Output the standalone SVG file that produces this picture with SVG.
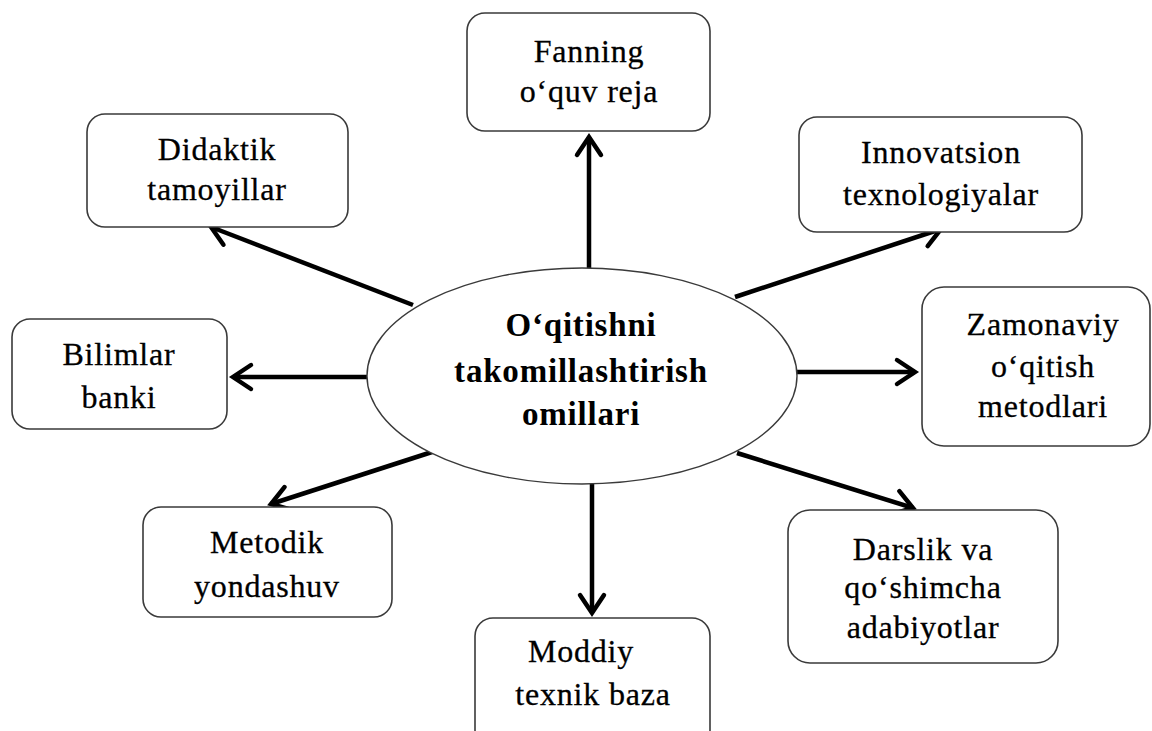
<svg xmlns="http://www.w3.org/2000/svg" width="1152" height="731" viewBox="0 0 1152 731">
  <style>
    .box { fill: #ffffff; stroke: #3a3a3a; stroke-width: 1.6; }
    .ell { fill: #ffffff; stroke: #3a3a3a; stroke-width: 1.4; }
    .lbl { font-family: "Liberation Serif", "Times New Roman", serif; font-size: 32px; fill: #000; stroke: #000; stroke-width: 0.3; text-anchor: middle; letter-spacing: 0.8px; }
    .main { font-family: "Liberation Serif", "Times New Roman", serif; font-size: 33px; font-weight: bold; fill: #000; text-anchor: middle; letter-spacing: 0.8px; }
    .arr { stroke: #000; stroke-width: 4.5; fill: none; marker-end: url(#head); }
  </style>
  <defs>
    <marker id="head" markerUnits="userSpaceOnUse" markerWidth="34" markerHeight="34" viewBox="-24 -17 28 34" refX="0" refY="0" orient="auto">
      <path d="M -18 -12 L 0 0 L -18 12" fill="none" stroke="#000" stroke-width="4.5" stroke-linecap="round" stroke-linejoin="miter"/>
    </marker>
  </defs>
  <rect width="1152" height="731" fill="#ffffff"/>

  <g id="connectors">
    <line class="arr" x1="589" y1="268" x2="589" y2="137"/>
    <line class="arr" x1="413" y1="305" x2="211" y2="227"/>
    <line class="arr" x1="735" y1="297" x2="941" y2="229"/>
    <line class="arr" x1="367" y1="377" x2="233" y2="377"/>
    <line class="arr" x1="797" y1="372" x2="915" y2="372"/>
    <line class="arr" x1="432" y1="452" x2="271" y2="504"/>
    <line class="arr" x1="592" y1="483" x2="592" y2="613"/>
    <line class="arr" x1="737" y1="453" x2="913" y2="508"/>
  </g>

  <g id="center">
    <ellipse class="ell" cx="582" cy="376" rx="215" ry="108"/>
    <text class="main" x="581" y="336">O‘qitishni</text>
    <text class="main" x="581" y="382">takomillashtirish</text>
    <text class="main" x="581" y="425">omillari</text>
  </g>

  <g id="fanning">
    <rect class="box" x="467" y="13" width="243" height="118" rx="18"/>
    <text class="lbl" x="589" y="62">Fanning</text>
    <text class="lbl" x="589" y="102">o‘quv reja</text>
  </g>

  <g id="didaktik">
    <rect class="box" x="87" y="114" width="261" height="113" rx="18"/>
    <text class="lbl" x="217" y="160">Didaktik</text>
    <text class="lbl" x="217" y="200">tamoyillar</text>
  </g>

  <g id="innovatsion">
    <rect class="box" x="799" y="117" width="283" height="115" rx="18"/>
    <text class="lbl" x="941" y="163">Innovatsion</text>
    <text class="lbl" x="941" y="205">texnologiyalar</text>
  </g>

  <g id="bilimlar">
    <rect class="box" x="12" y="319" width="215" height="110" rx="18"/>
    <text class="lbl" x="119" y="365">Bilimlar</text>
    <text class="lbl" x="119" y="408">banki</text>
  </g>

  <g id="zamonaviy">
    <rect class="box" x="922" y="287" width="228" height="159" rx="22"/>
    <text class="lbl" x="1043" y="335">Zamonaviy</text>
    <text class="lbl" x="1043" y="377">o‘qitish</text>
    <text class="lbl" x="1043" y="417">metodlari</text>
  </g>

  <g id="metodik">
    <rect class="box" x="143" y="507" width="249" height="110" rx="18"/>
    <text class="lbl" x="267" y="553">Metodik</text>
    <text class="lbl" x="267" y="597">yondashuv</text>
  </g>

  <g id="moddiy">
    <rect class="box" x="475" y="618" width="235" height="130" rx="18"/>
    <text class="lbl" x="581" y="662">Moddiy</text>
    <text class="lbl" x="593" y="705">texnik baza</text>
  </g>

  <g id="darslik">
    <rect class="box" x="788" y="510" width="270" height="153" rx="22"/>
    <text class="lbl" x="923" y="560">Darslik va</text>
    <text class="lbl" x="923" y="598">qo‘shimcha</text>
    <text class="lbl" x="923" y="638">adabiyotlar</text>
  </g>
</svg>
